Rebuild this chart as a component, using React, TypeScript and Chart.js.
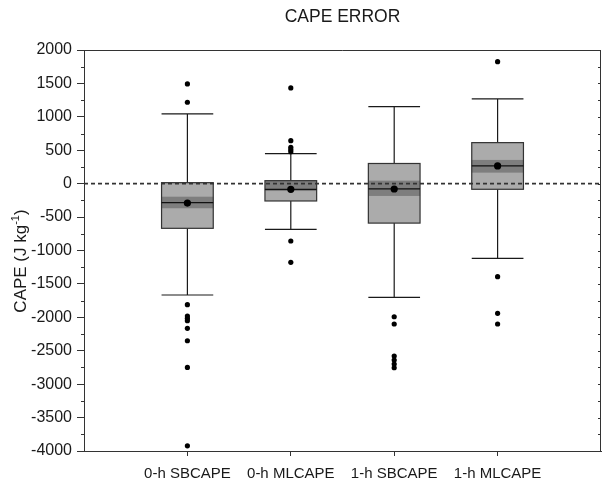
import React, { useEffect, useRef } from 'react';
import { Chart, registerables } from 'chart.js';

Chart.register(...registerables);

const categories = ['0-h SBCAPE', '0-h MLCAPE', '1-h SBCAPE', '1-h MLCAPE'];
const whiskerHigh = [1043, 449, 1153, 1268];
const q3 = [15, 45, 302, 614];
const median = [-285, -84, -78, 265];
const q1 = [-668, -259, -590, -84];
const whiskerLow = [-1666, -683, -1701, -1117];
const ciHigh = [-195, 40, 45, 355];
const ciLow = [-368, -110, -184, 165];
const means = [-290, -85, -80, 265];
const outliers0 = [1492, 1218, -1811, -1981, -2015, -2050, -2165, -2350, -2749, -3922];
const outliers1 = [1433, 644, 545, 510, 479, -858, -1177];
const outliers2 = [-1991, -2100, -2579, -2639, -2699, -2754];
const outliers3 = [1826, -1392, -1940, -2100];
const outlierSets = [outliers0, outliers1, outliers2, outliers3];

const TITLE = 'CAPE ERROR';
const FONT = "'Liberation Sans', Arial, Helvetica, sans-serif";
const INK = '#1a1a1a';

const boxPlugin = {
  id: 'boxPlugin',
  beforeDatasetsDraw(chart: any) {
    const { ctx, chartArea } = chart;
    const xs = chart.scales.x;
    const ys = chart.scales.y;
    ctx.save();
    categories.forEach((_, i) => {
      const cx = xs.getPixelForValue(i + 1);
      const half = xs.getPixelForValue(i + 1.25) - cx;
      const yWH = ys.getPixelForValue(whiskerHigh[i]);
      const yQ3 = ys.getPixelForValue(q3[i]);
      const yMed = ys.getPixelForValue(median[i]);
      const yQ1 = ys.getPixelForValue(q1[i]);
      const yWL = ys.getPixelForValue(whiskerLow[i]);
      const yCH = ys.getPixelForValue(ciHigh[i]);
      const yCL = ys.getPixelForValue(ciLow[i]);
      ctx.strokeStyle = INK;
      ctx.lineWidth = 1.2;
      ctx.beginPath();
      ctx.moveTo(cx, yWH);
      ctx.lineTo(cx, yQ3);
      ctx.moveTo(cx, yQ1);
      ctx.lineTo(cx, yWL);
      ctx.moveTo(cx - half, yWH);
      ctx.lineTo(cx + half, yWH);
      ctx.moveTo(cx - half, yWL);
      ctx.lineTo(cx + half, yWL);
      ctx.stroke();
      ctx.fillStyle = '#ababab';
      ctx.fillRect(cx - half, yQ3, 2 * half, yQ1 - yQ3);
      ctx.fillStyle = '#7e7e7e';
      ctx.fillRect(cx - half, yCH, 2 * half, yCL - yCH);
      ctx.strokeStyle = '#333';
      ctx.lineWidth = 1.2;
      ctx.strokeRect(cx - half, yQ3, 2 * half, yQ1 - yQ3);
      ctx.strokeStyle = '#111';
      ctx.beginPath();
      ctx.moveTo(cx - half, yMed);
      ctx.lineTo(cx + half, yMed);
      ctx.stroke();
    });
    // zero reference line
    const y0 = ys.getPixelForValue(0);
    ctx.strokeStyle = '#333';
    ctx.lineWidth = 1.6;
    ctx.setLineDash([4, 3]);
    ctx.beginPath();
    ctx.moveTo(chartArea.left, y0);
    ctx.lineTo(chartArea.right, y0);
    ctx.stroke();
    ctx.restore();
  },
  afterDraw(chart: any) {
    const { ctx, chartArea } = chart;
    const ys = chart.scales.y;
    ctx.save();
    ctx.strokeStyle = '#333';
    ctx.lineWidth = 1;
    ctx.beginPath();
    ctx.moveTo(chartArea.left, chartArea.top + 0.5);
    ctx.lineTo(chartArea.right - 0.5, chartArea.top + 0.5);
    ctx.lineTo(chartArea.right - 0.5, chartArea.bottom);
    ctx.stroke();
    // minor ticks on left, inward ticks on right
    const min = ys.min;
    const max = ys.max;
    ctx.beginPath();
    for (let v = min; v <= max; v += 250) {
      const y = Math.round(ys.getPixelForValue(v)) + 0.5;
      if (v % 500 !== 0) {
        ctx.moveTo(chartArea.left - 3, y);
        ctx.lineTo(chartArea.left, y);
      }
      ctx.moveTo(chartArea.right - 3, y);
      ctx.lineTo(chartArea.right, y);
    }
    ctx.stroke();
    // chart title
    ctx.fillStyle = INK;
    ctx.font = `17.5px ${FONT}`;
    ctx.textAlign = 'center';
    ctx.textBaseline = 'middle';
    ctx.fillText(TITLE, (chartArea.left + chartArea.right) / 2, 17);
    // y-axis title with superscript
    const mainFont = `17px ${FONT}`;
    const supFont = `11px ${FONT}`;
    const p1 = 'CAPE (J kg';
    const p2 = '-1';
    const p3 = ')';
    ctx.font = mainFont;
    const w1 = ctx.measureText(p1).width;
    const w3 = ctx.measureText(p3).width;
    ctx.font = supFont;
    const w2 = ctx.measureText(p2).width;
    const total = w1 + w2 + w3;
    ctx.translate(21, 261);
    ctx.rotate(-Math.PI / 2);
    ctx.textAlign = 'left';
    let x = -total / 2;
    ctx.font = mainFont;
    ctx.fillText(p1, x, 0);
    x += w1;
    ctx.font = supFont;
    ctx.fillText(p2, x, -5);
    x += w2;
    ctx.font = mainFont;
    ctx.fillText(p3, x, 0);
    ctx.restore();
  },
};

export default function App() {
  const ref = useRef<HTMLCanvasElement | null>(null);
  useEffect(() => {
    if (!ref.current) return;
    Chart.defaults.font.family = FONT;
    Chart.defaults.color = INK;
    const outlierData: { x: number; y: number }[] = [];
    outlierSets.forEach((set, i) => set.forEach((v) => outlierData.push({ x: i + 1, y: v })));
    const meanData = means.map((v, i) => ({ x: i + 1, y: v }));
    const chart = new Chart(ref.current, {
      type: 'scatter',
      data: {
        datasets: [
          {
            label: 'Mean',
            data: meanData,
            pointRadius: 3.6,
            pointBackgroundColor: '#000',
            pointBorderColor: '#000',
            pointBorderWidth: 0,
          },
          {
            label: 'Outliers',
            data: outlierData,
            pointRadius: 2.6,
            pointBackgroundColor: '#000',
            pointBorderColor: '#000',
            pointBorderWidth: 0,
          },
        ],
      },
      options: {
        responsive: false,
        animation: false,
        layout: { padding: { top: 50, right: 2, left: 0, bottom: 0 } },
        plugins: {
          legend: { display: false },
          tooltip: { enabled: false },
          title: { display: false },
        },
        scales: {
          x: {
            type: 'linear',
            min: 0,
            max: 5,
            afterBuildTicks: (axis: any) => {
              axis.ticks = categories.map((_, i) => ({ value: i + 1 }));
            },
            afterFit: (axis: any) => {
              axis.height = 29;
            },
            ticks: {
              autoSkip: false,
              maxRotation: 0,
              padding: 9,
              font: { size: 15 },
              color: INK,
              callback: (v: any) => categories[Number(v) - 1] ?? '',
            },
            grid: {
              display: true,
              drawOnChartArea: false,
              drawTicks: true,
              tickLength: 5,
              color: '#333',
            },
            border: { display: true, color: '#333', width: 1 },
          },
          y: {
            type: 'linear',
            min: -4000,
            max: 2000,
            afterFit: (axis: any) => {
              axis.width = 84;
            },
            ticks: {
              stepSize: 500,
              padding: 5,
              font: { size: 16 },
              color: INK,
              callback: (v: any) => String(v),
            },
            grid: {
              display: true,
              drawOnChartArea: false,
              drawTicks: true,
              tickLength: 7,
              color: '#333',
            },
            border: { display: true, color: '#333', width: 1 },
          },
        },
      },
      plugins: [boxPlugin],
    });
    return () => chart.destroy();
  }, []);
  return (
    <div style={{ position: 'absolute', left: 0, top: 0, width: 605, height: 480, background: '#fff' }}>
      <canvas ref={ref} width={605} height={480} style={{ width: 605, height: 480, display: 'block' }} />
    </div>
  );
}
